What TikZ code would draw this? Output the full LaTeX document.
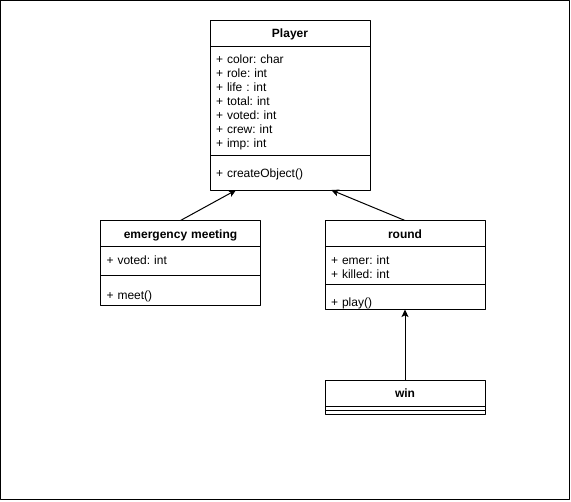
\documentclass[tikz,border=0pt]{standalone}
\usepackage{fontspec}
\setmainfont{Liberation Sans}
\frenchspacing
\usetikzlibrary{positioning,arrows.meta}
\begin{document}
\begin{tikzpicture}[x=0.75pt,y=-0.75pt,>={Stealth[length=5.6pt,width=5.2pt,inset=1.2pt]},
	line join=round,node distance=0pt,
	classbox/.style={draw,line width=0.75pt,outer sep=0pt,inner xsep=4.5pt,inner ysep=0pt,text width=111pt,font=\fontsize{9}{10.5}\selectfont},
	classtitle/.style={classbox,align=center,font=\fontsize{9}{10.5}\selectfont\bfseries,minimum height=19.5pt,text height=7pt,text depth=0pt},
	classpart/.style={classbox,align=left,minimum height=#1,text height=9.5pt}]
	\useasboundingbox (0,0) rectangle (571,501);
	\draw[line width=1pt] (0.6,0.6) rectangle (569.3,499.3);
	% Player
	\node[classtitle] (player) at (290,33) {Player};
	\node[classpart=81.75pt,below=of player] (player-attr) {+ color: char\\+ role: int\\+ life : int\\+ total: int\\+ voted: int\\+ crew: int\\+ imp: int};
	\node[classpart=26.25pt,below=of player-attr] (player-ops) {+ createObject()};
	% emergency meeting
	\node[classtitle] (emergency) at (180.5,233.5) {emergency meeting};
	\node[classpart=21.75pt,text height=6.5pt,text depth=1.5pt,below=of emergency] (emergency-attr) {+ voted: int};
	\node[classpart=22.5pt,text height=18pt,text depth=4.5pt,below=of emergency-attr] (emergency-ops) {+ meet()};
	% round
	\node[classtitle] (round) at (405,233.5) {round};
	\node[classpart=28.5pt,below=of round] (round-attr) {+ emer: int\\+ killed: int};
	\node[classpart=18.75pt,text height=16.1pt,text depth=2.6pt,below=of round-attr] (round-ops) {+ play()};
	% win
	\node[classtitle] (win) at (405,393.3) {win};
	\node[classpart=3pt,text height=0pt,below=of win] (win-attr) {};
	\node[classpart=3pt,text height=0pt,below=of win-attr] (win-ops) {};
	% inheritance
	\draw[->,line width=0.75pt] (emergency.north) -- (player-ops.198);
	\draw[->,line width=0.75pt] (round.north) -- (player-ops.-23);
	\draw[->,line width=0.75pt] (win.north) -- (round-ops.south);
\end{tikzpicture}
\end{document}
